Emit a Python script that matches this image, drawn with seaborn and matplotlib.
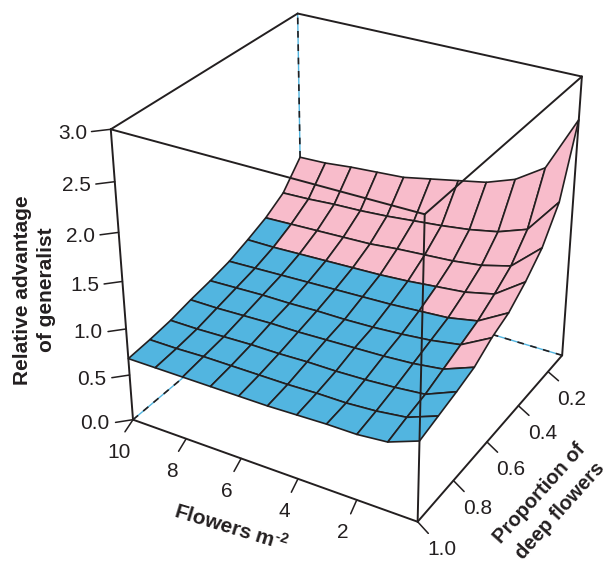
import numpy as np
import matplotlib
matplotlib.use("Agg")
import matplotlib.pyplot as plt
import seaborn as sns
from mpl_toolkits.mplot3d import proj3d

# values
flowers = [10, 9, 8, 7, 6, 5, 4, 3, 2, 1, 0]
prop_deep = [1.0, 0.9, 0.8, 0.7, 0.6, 0.5, 0.4, 0.3, 0.2, 0.1]
adv_p10 = [0.68, 0.68, 0.68, 0.68, 0.68, 0.68, 0.69, 0.70, 0.70, 0.73, 0.85]
adv_p09 = [0.70, 0.70, 0.71, 0.71, 0.71, 0.71, 0.72, 0.72, 0.74, 0.78, 0.90]
adv_p08 = [0.73, 0.73, 0.74, 0.75, 0.75, 0.76, 0.76, 0.77, 0.79, 0.82, 0.95]
adv_p07 = [0.78, 0.78, 0.79, 0.80, 0.80, 0.81, 0.82, 0.83, 0.85, 0.89, 1.01]
adv_p06 = [0.82, 0.83, 0.84, 0.84, 0.85, 0.85, 0.86, 0.88, 0.91, 0.96, 1.13]
adv_p05 = [0.87, 0.88, 0.89, 0.90, 0.91, 0.92, 0.93, 0.95, 0.97, 1.03, 1.21]
adv_p04 = [0.95, 0.95, 0.96, 0.97, 0.98, 0.99, 1.01, 1.04, 1.07, 1.14, 1.36]
adv_p03 = [1.04, 1.05, 1.06, 1.07, 1.08, 1.11, 1.13, 1.15, 1.19, 1.27, 1.55]
adv_p02 = [1.17, 1.18, 1.20, 1.21, 1.23, 1.26, 1.29, 1.33, 1.39, 1.50, 1.87]
adv_p01 = [1.43, 1.44, 1.47, 1.49, 1.51, 1.57, 1.63, 1.69, 1.80, 2.00, 2.57]
# how many rows from the front stay blue, one number per column of cells
blue_rows = [7, 6, 6, 6, 6, 6, 6, 5, 5, 3]

x_ticks = [2, 4, 6, 8, 10]
p_ticks = [0.2, 0.4, 0.6, 0.8, 1.0]
z_ticks = [0.0, 0.5, 1.0, 1.5, 2.0, 2.5, 3.0]

sns.set_style("white")
plt.rcParams["font.family"] = ["Liberation Sans", "DejaVu Sans"]
plt.rcParams["mathtext.fontset"] = "custom"
plt.rcParams["mathtext.rm"] = "Liberation Sans:bold"
plt.rcParams["mathtext.bf"] = "Liberation Sans:bold"
plt.rcParams["mathtext.default"] = "bf"

ink = "#231f20"
blue, pink = sns.color_palette(["#52b5e0", "#f8bccb"])

X, Y = np.meshgrid(flowers, prop_deep)
Z = np.array([adv_p10, adv_p09, adv_p08, adv_p07, adv_p06,
              adv_p05, adv_p04, adv_p03, adv_p02, adv_p01])

cell_col = np.zeros((Z.shape[0] - 1, Z.shape[1] - 1, 4))
for c, n in enumerate(blue_rows):
    for r in range(Z.shape[0] - 1):
        cell_col[r, c] = (*blue, 1) if r < n else (*pink, 1)

fig = plt.figure(figsize=(6.07, 5.63), dpi=100)
ax = fig.add_axes([70.65 / 607, 28.99 / 563, 551.2 / 607, 551.2 / 563], projection="3d")
ax.computed_zorder = False
ax.view_init(29.67, 120.09)
ax.set_proj_type("persp", focal_length=0.5836)
ax.set_box_aspect((1.005, 1.005, 1))
ax.set_axis_off()
ax.patch.set_alpha(0)

x0, x1 = 0, 10
p0, p1 = 0.1, 1.0
top = 3

# hidden edges of the box, behind the surface
for xs, ys, zs in [([x1, x1], [p1, p0], [0, 0]),
                   ([x0, x1], [p0, p0], [0, 0]),
                   ([x1, x1], [p0, p0], [0, top])]:
    ax.plot(xs, ys, zs, color="#52b5e0", lw=1.0, zorder=1)
    ax.plot(xs, ys, zs, color=ink, lw=1.2, ls=(0, (4, 4)), zorder=1.1)

ax.plot([x1, x1], [p1, p0], [top, top], color=ink, lw=1.4, zorder=1.2)
ax.plot([x1, x0], [p0, p0], [top, top], color=ink, lw=1.4, zorder=1.2)

ax.plot_surface(X, Y, Z, rstride=1, cstride=1, facecolors=cell_col, shade=False,
                edgecolor=ink, linewidth=1.2, zorder=2)

# the edges in front
for xs, ys, zs in [([x1, x0], [p1, p1], [0, 0]),
                   ([x0, x0], [p1, p0], [0, 0]),
                   ([x1, x1], [p1, p1], [0, top]),
                   ([x0, x0], [p1, p1], [0, top]),
                   ([x0, x0], [p0, p0], [0, top]),
                   ([x1, x0], [p1, p1], [top, top]),
                   ([x0, x0], [p1, p0], [top, top])]:
    ax.plot(xs, ys, zs, color=ink, lw=1.4, zorder=3)

ax.set_xlim(x0, x1)
ax.set_ylim(p0, p1)
ax.set_zlim(0, top)
M = ax.get_proj()


def tick_label(x, y, z, text, dx, dy):
    # offset given in pixels, y going down
    xp, yp, _ = proj3d.proj_transform(x, y, z, M)
    ax.annotate(text, (xp, yp), xytext=(dx * 0.72, -dy * 0.72), textcoords="offset points",
                fontsize=15, color=ink, ha="center", va="center", annotation_clip=False)


for v in x_ticks:
    ax.plot([v, v - 0.17], [p1, p1 + 0.058], [0, 0], color=ink, lw=1.1, zorder=3)
    tick_label(v, p1, 0, str(v), -14, 33)
for v in p_ticks:
    ax.plot([x0, x0 - 0.51], [v, v + 0.028], [0, 0], color=ink, lw=1.1, zorder=3)
    tick_label(x0, v, 0, f"{v:.1f}", 24, 28)
for v in z_ticks:
    ax.plot([x1, x1 + 0.38], [p1, p1 + 0.035], [v, v], color=ink, lw=1.1, zorder=3)
    tick_label(x1, p1, v, f"{v:.1f}", -38, 4)

ax.set_xlim(x0, x1)
ax.set_ylim(p0, p1)
ax.set_zlim(0, top)

fig.text(34.5 / 607, 1 - 290 / 563, "Relative advantage\nof generalist", rotation=90, fontsize=15,
         fontweight="bold", color=ink, ha="center", va="center", linespacing=1.34)
fig.text(231 / 607, 1 - 527 / 563, "Flowers m$^{\\text{-2}}$", rotation=-17, fontsize=15,
         fontweight="bold", color=ink, ha="center", va="center", rotation_mode="anchor")
fig.text(540 / 607, 1 - 493 / 563, "Proportion of", rotation=48, fontsize=14.5,
         fontweight="bold", color=ink, ha="center", va="center", rotation_mode="anchor")
fig.text(560 / 607, 1 - 511 / 563, "deep flowers", rotation=48, fontsize=14.5,
         fontweight="bold", color=ink, ha="center", va="center", rotation_mode="anchor")

fig.savefig("out.png", dpi=100)
